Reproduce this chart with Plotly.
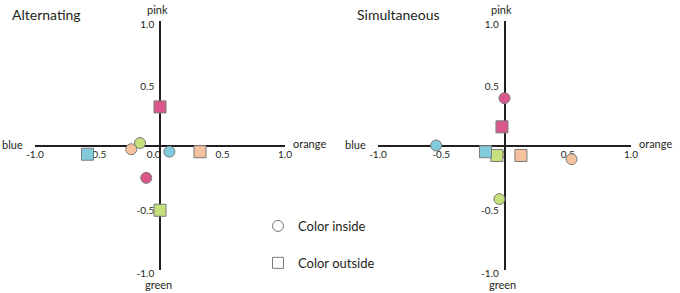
import plotly.graph_objects as go

# ---- data ----
categories = ["pink", "green", "orange", "blue"]
colors = ["#D9578B", "#C6E07C", "#F5C29D", "#82CBDD"]

alt_inside_x = [-0.11, -0.16, -0.23, 0.075]
alt_inside_y = [-0.26, 0.02, -0.03, -0.05]
alt_outside_x = [0.0, 0.0, 0.32, -0.58]
alt_outside_y = [0.31, -0.52, -0.05, -0.07]

sim_inside_x = [0.0, -0.04, 0.53, -0.54]
sim_inside_y = [0.38, -0.43, -0.11, 0.0]
sim_outside_x = [-0.02, -0.06, 0.13, -0.15]
sim_outside_y = [0.15, -0.08, -0.08, -0.05]

tick_vals_x = [-1.0, -0.5, 0.0, 0.5, 1.0]
tick_text_x = ["-1.0", "-0.5", "0.0", "0.5", "1.0"]
tick_vals_y = [-1.0, -0.5, 0.5, 1.0]
tick_text_y = ["-1.0", "-0.5", "0.5", "1.0"]

panel_titles = ["Alternating", "Simultaneous"]
axis_ends = {"left": "blue", "right": "orange", "top": "pink", "bottom": "green"}
legend_names = ["Color inside", "Color outside"]

FONT = "Lato, Open Sans, sans-serif"
TXT = "#231f20"
OUTLINE = "#7a7a7a"

fig = go.Figure()

panels = [
    ("x", "y", alt_inside_x, alt_inside_y, alt_outside_x, alt_outside_y),
    ("x2", "y2", sim_inside_x, sim_inside_y, sim_outside_x, sim_outside_y),
]
for xa, ya, ix, iy, ox, oy in panels:
    fig.add_trace(go.Scatter(
        x=ix, y=iy, xaxis=xa, yaxis=ya, mode="markers", showlegend=False,
        marker=dict(symbol="circle", size=11, color=colors,
                    line=dict(color=OUTLINE, width=1)),
        hovertext=categories))
    fig.add_trace(go.Scatter(
        x=ox, y=oy, xaxis=xa, yaxis=ya, mode="markers", showlegend=False,
        marker=dict(symbol="square", size=12, color=colors,
                    line=dict(color=OUTLINE, width=1)),
        hovertext=categories))

# legend entries
for name, sym, grp in [(legend_names[0], "circle", "a"), (legend_names[1], "square", "b")]:
    fig.add_trace(go.Scatter(
        x=[None], y=[None], mode="markers", name=name, legendgroup=grp,
        marker=dict(symbol=sym, size=11, color="white",
                    line=dict(color=OUTLINE, width=1))))

# the "0.0" label sits just left of the vertical axis in the reference
NBSP = "\u00a0"
tick_text_x_disp = [t + NBSP * 5 if v == 0 else t for v, t in zip(tick_vals_x, tick_text_x)]

px_w, px_h = 680, 293
ydom = [1 - 270 / px_h, 1 - 21 / px_h]
xdoms = [[35 / px_w, 285 / px_w], [378 / px_w, 631 / px_w]]
ymid = (ydom[0] + ydom[1]) / 2

common_x = dict(range=[-1, 1], showgrid=False, zeroline=False, showline=True,
                linecolor="#231f20", linewidth=1.5, ticks="", tickvals=tick_vals_x,
                ticktext=tick_text_x_disp, tickfont=dict(family=FONT, size=10, color=TXT),
                anchor="free", position=ymid, layer="below traces", fixedrange=True,
                automargin=False)
common_y = dict(range=[-1, 1], showgrid=False, zeroline=False, showline=True,
                linecolor="#231f20", linewidth=1.5, ticks="", tickvals=tick_vals_y,
                ticktext=tick_text_y, tickfont=dict(family=FONT, size=10, color=TXT),
                anchor="free", layer="below traces", domain=ydom, fixedrange=True,
                ticklabelstandoff=3, ticklabelshift=3, automargin=False)

fig.update_layout(
    xaxis=dict(domain=xdoms[0], **common_x),
    xaxis2=dict(domain=xdoms[1], **common_x),
    yaxis=dict(position=sum(xdoms[0]) / 2, **common_y),
    yaxis2=dict(position=sum(xdoms[1]) / 2, **common_y),
)

annotations = []
for i, (xr, yr) in enumerate([("x", "y"), ("x2", "y2")]):
    annotations += [
        dict(x=-1, y=0, xref=xr, yref=yr, text=axis_ends["left"], showarrow=False,
             xanchor="right", yanchor="middle", xshift=-10, yshift=1,
             font=dict(family=FONT, size=11, color=TXT)),
        dict(x=1, y=0, xref=xr, yref=yr, text=axis_ends["right"], showarrow=False,
             xanchor="left", yanchor="middle", xshift=6, yshift=2,
             font=dict(family=FONT, size=11, color=TXT)),
        dict(x=0, y=1, xref=xr, yref=yr, text=axis_ends["top"], showarrow=False,
             xanchor="center", yanchor="bottom", xshift=-3, yshift=3,
             font=dict(family=FONT, size=11, color=TXT)),
        dict(x=0, y=-1, xref=xr, yref=yr, text=axis_ends["bottom"], showarrow=False,
             xanchor="center", yanchor="top", xshift=-2, yshift=-6,
             font=dict(family=FONT, size=11, color=TXT)),
    ]
annotations += [
    dict(x=10 / px_w, y=1 - 14 / px_h, xref="paper", yref="paper", text=panel_titles[0],
         showarrow=False, xanchor="left", yanchor="middle",
         font=dict(family=FONT, size=14, color=TXT)),
    dict(x=355 / px_w, y=1 - 14 / px_h, xref="paper", yref="paper", text=panel_titles[1],
         showarrow=False, xanchor="left", yanchor="middle",
         font=dict(family=FONT, size=14, color=TXT)),
]

fig.update_layout(
    width=px_w, height=px_h,
    margin=dict(l=0, r=0, t=0, b=0, autoexpand=False),
    paper_bgcolor="white", plot_bgcolor="white",
    annotations=annotations,
    showlegend=True,
    legend=dict(x=258 / px_w, y=1 - 211 / px_h, xanchor="left", yanchor="top",
                traceorder="grouped", tracegroupgap=17, bgcolor="rgba(0,0,0,0)",
                font=dict(family=FONT, size=13, color=TXT)),
)

fig.write_html("out.html", config={"displayModeBar": False},
               post_script="document.body.style.margin='0';document.body.style.overflow='hidden';")
